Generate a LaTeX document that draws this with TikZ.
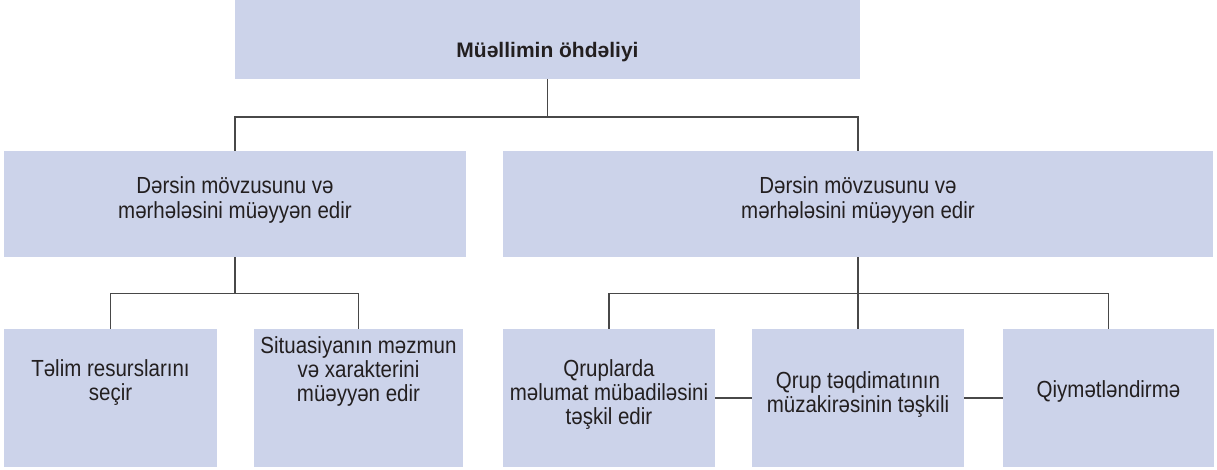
\documentclass[tikz,border=0pt]{standalone}
\usepackage{fontspec}
\setmainfont{Liberation Sans}[FakeStretch=0.88]
\newfontfamily\topfont{Liberation Sans}[FakeStretch=1.0]
\definecolor{boxfill}{RGB}{204,211,234}
\definecolor{linec}{RGB}{72,72,72}
\definecolor{txt}{RGB}{35,31,32}
\newcommand\mlines[1]{\begin{tabular}[b]{@{}c@{}}#1\end{tabular}}
\begin{document}
\begin{tikzpicture}[x=1pt,y=-1pt,
  box/.style={rectangle, fill=boxfill, draw=none, inner sep=0pt},
  lbl/.style={anchor=base, inner sep=0pt, text=txt, font=\fontsize{23.3}{23.5}\selectfont},
  conn/.style={draw=linec, line width=1.4pt}]
\useasboundingbox (0,0) rectangle (1217,469);
\fill[white] (0,0) rectangle (1217,469);
% boxes
\node[box, minimum width=625pt, minimum height=79pt] (top) at (547.5,39.5) {};
\node[box, minimum width=462pt, minimum height=106pt] (l2a) at (235,204) {};
\node[box, minimum width=710pt, minimum height=106pt] (l2b) at (858,204) {};
\node[box, minimum width=213pt, minimum height=138pt] (l3a) at (110.5,398) {};
\node[box, minimum width=209pt, minimum height=138pt] (l3b) at (358.5,398) {};
\node[box, minimum width=212pt, minimum height=138pt] (r1) at (609,398) {};
\node[box, minimum width=212pt, minimum height=138pt] (r2) at (858,398) {};
\node[box, minimum width=211pt, minimum height=138pt] (r3) at (1108.5,398) {};
% texts (anchored at the baseline of their last line)
\node[lbl, font=\topfont\fontsize{21}{24}\selectfont\bfseries] (ttop) at (547.5,57) {Müəllimin öhdəliyi};
\node[lbl, font=\fontsize{23.3}{24}\selectfont] (tl2a) at (235,218) {\mlines{Dərsin mövzusunu və\\mərhələsini müəyyən edir}};
\node[lbl, font=\fontsize{23.3}{24}\selectfont] (tl2b) at (858,218) {\mlines{Dərsin mövzusunu və\\mərhələsini müəyyən edir}};
\node[lbl] (tl3a) at (110.5,400) {\mlines{Təlim resurslarını\\seçir}};
\node[lbl] (tl3b) at (358.5,401) {\mlines{Situasiyanın məzmun\\və xarakterini\\müəyyən edir}};
\node[lbl] (tr1) at (609,424) {\mlines{Qruplarda\\məlumat mübadiləsini\\təşkil edir}};
\node[lbl] (tr2) at (858,412) {\mlines{Qrup təqdimatının\\müzakirəsinin təşkili}};
\node[lbl] (tr3) at (1108.5,397) {Qiymətləndirmə};
% junction levels
\coordinate (j1) at (0,117);
\coordinate (j2) at (0,293.5);
% connectors
\draw[conn] (top.south) -- (top.south |- j1);
\draw[conn] (l2a.north) |- (j1 -| l2b.north) -- (l2b.north);
\draw[conn] (l2a.south) -- (l2a.south |- j2);
\draw[conn] (l3a.north) |- (j2 -| l3b.north) -- (l3b.north);
\draw[conn] (l2b.south) -- (r2.north);
\draw[conn] (r1.north) |- (j2 -| r3.north) -- (r3.north);
\draw[conn] (r1.east) -- (r2.west);
\draw[conn] (r2.east) -- (r3.west);
\end{tikzpicture}
\end{document}
